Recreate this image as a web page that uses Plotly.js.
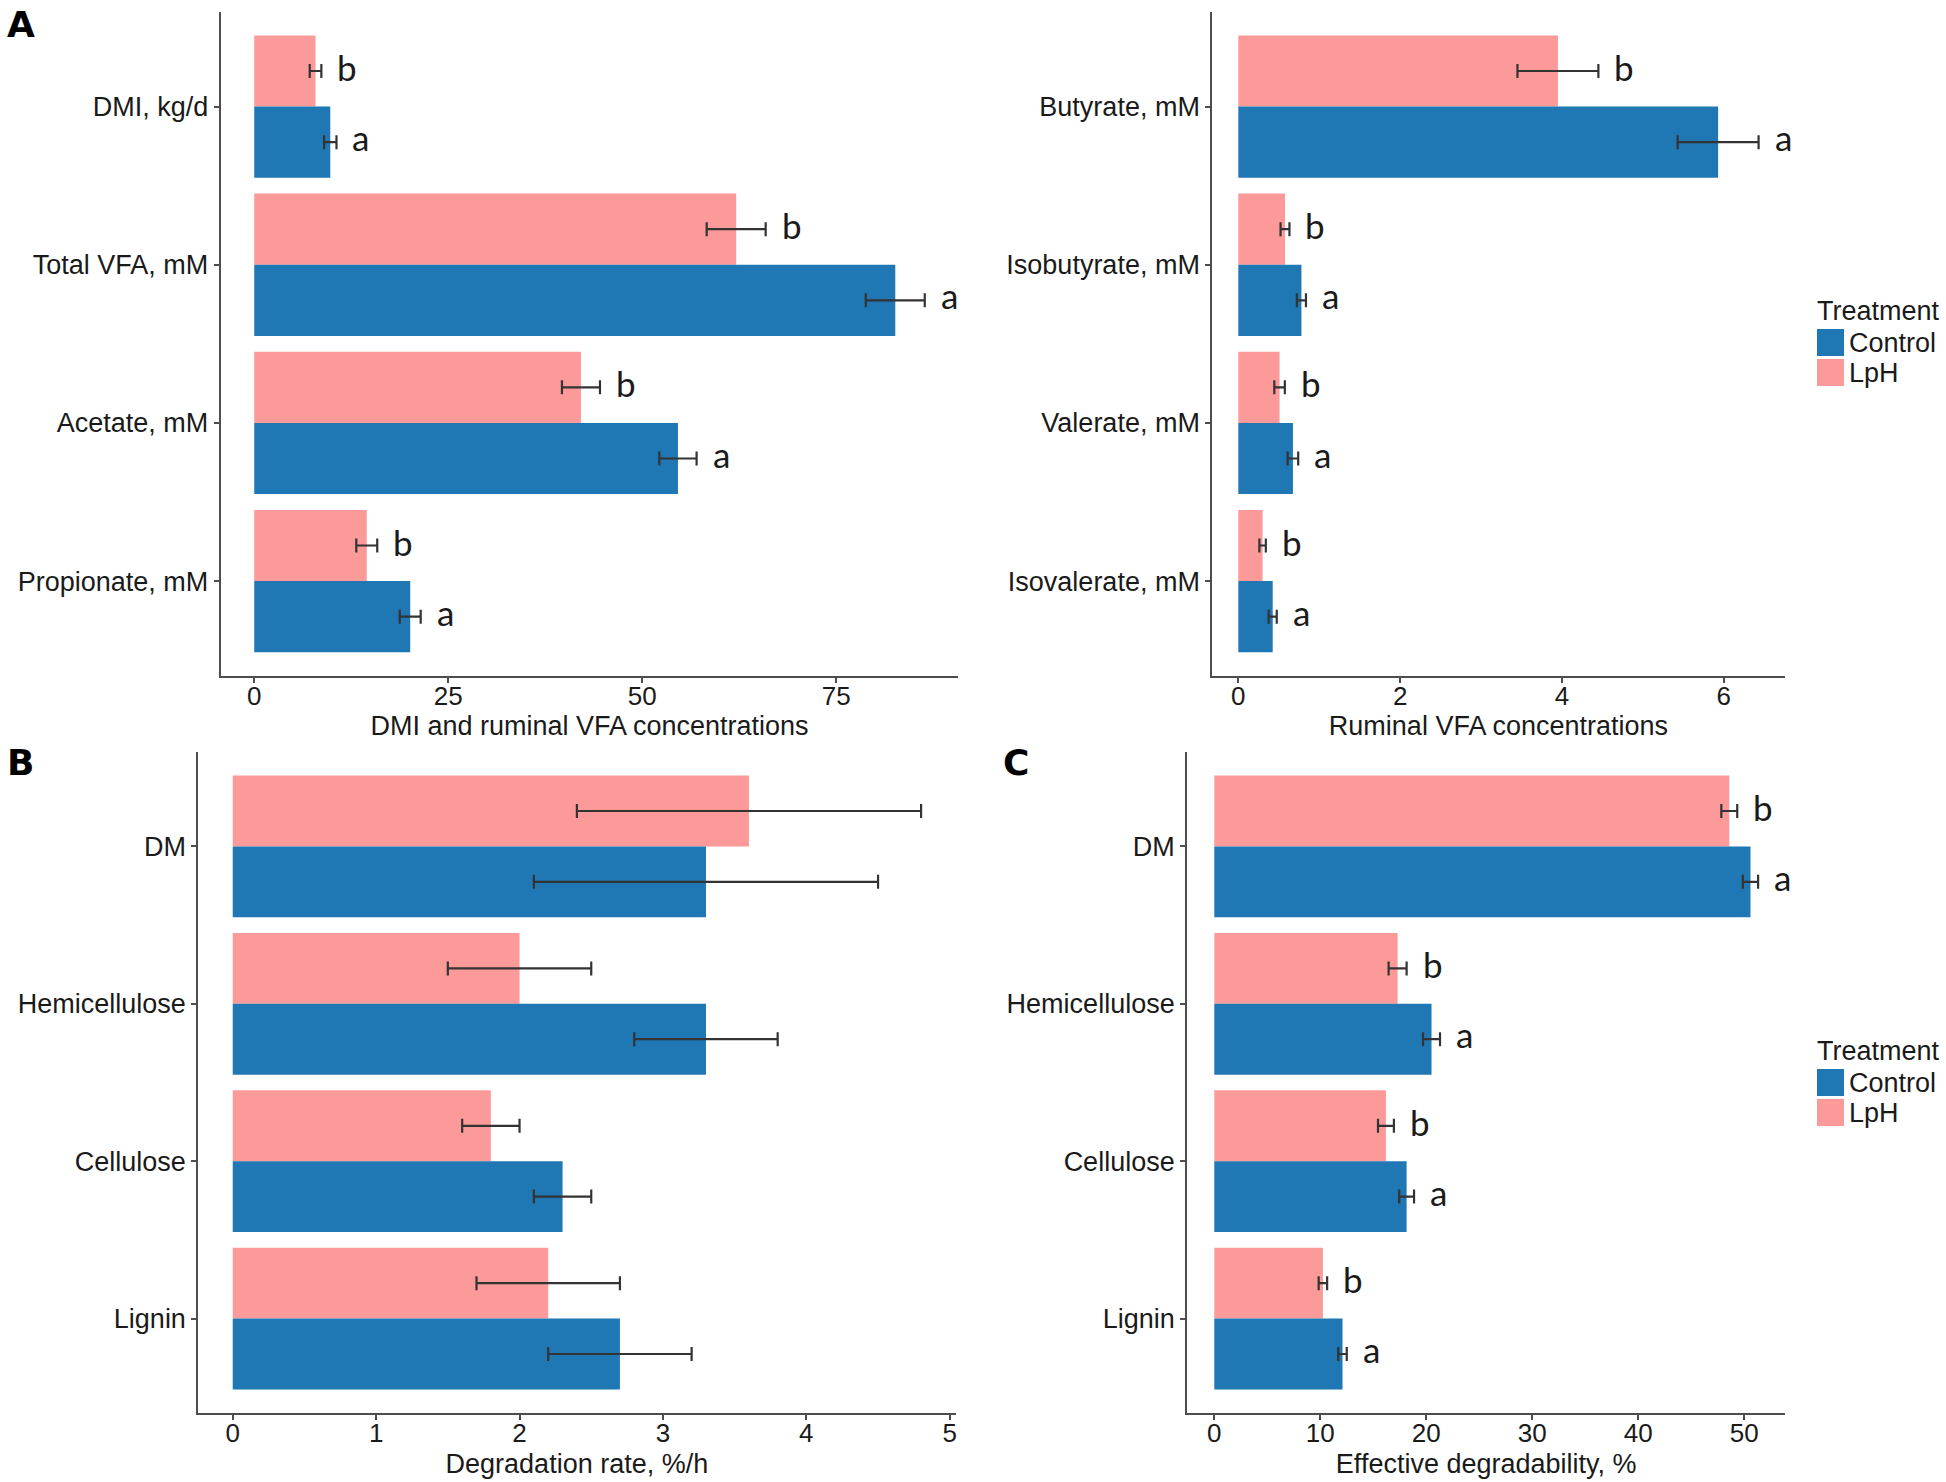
<!DOCTYPE html>
<html>
<head>
<meta charset="utf-8">
<script src="https://cdn.plot.ly/plotly-3.0.1.min.js"></script>
<style>html,body{margin:0;padding:0;background:#fff;}</style>
</head>
<body>
<div id="chart" style="width:1946px;height:1482px;"></div>
<script>
// ---------------- DATA ----------------
const treatments = ["Control", "LpH"];

// Panel A (left): DMI and ruminal VFA concentrations
const vfaCategories = ["DMI, kg/d", "Total VFA, mM", "Acetate, mM", "Propionate, mM"];
const vfaControl = [9.8, 82.6, 54.6, 20.1];
const vfaControlSE = [0.8, 3.8, 2.4, 1.35];
const vfaLpH = [7.9, 62.1, 42.1, 14.5];
const vfaLpHSE = [0.75, 3.8, 2.45, 1.35];
const vfaControlLetters = ["a", "a", "a", "a"];
const vfaLpHLetters = ["b", "b", "b", "b"];

// Panel A (right): Ruminal VFA concentrations
const minorCategories = ["Butyrate, mM", "Isobutyrate, mM", "Valerate, mM", "Isovalerate, mM"];
const minorControl = [5.93, 0.78, 0.675, 0.425];
const minorControlSE = [0.5, 0.056, 0.065, 0.05];
const minorLpH = [3.95, 0.577, 0.51, 0.30];
const minorLpHSE = [0.5, 0.055, 0.065, 0.04];
const minorControlLetters = ["a", "a", "a", "a"];
const minorLpHLetters = ["b", "b", "b", "b"];

// Panel B: Degradation rate, %/h
const fiberCategories = ["DM", "Hemicellulose", "Cellulose", "Lignin"];
const rateControl = [3.3, 3.3, 2.3, 2.7];
const rateControlSE = [1.2, 0.5, 0.2, 0.5];
const rateLpH = [3.6, 2.0, 1.8, 2.2];
const rateLpHSE = [1.2, 0.5, 0.2, 0.5];

// Panel C: Effective degradability, %
const edControl = [50.6, 20.5, 18.15, 12.1];
const edControlSE = [0.72, 0.8, 0.7, 0.4];
const edLpH = [48.6, 17.3, 16.2, 10.25];
const edLpHSE = [0.75, 0.85, 0.75, 0.4];
const edControlLetters = ["a", "a", "a", "a"];
const edLpHLetters = ["b", "b", "b", "b"];

// Axis / legend text
const panelLabels = ["A", "B", "C"];
const xTitles = ["DMI and ruminal VFA concentrations", "Ruminal VFA concentrations",
                 "Degradation rate, %/h", "Effective degradability, %"];
const xDticks = [25, 2, 1, 10];
const legendTitle = "Treatment";

// ---------------- STYLE ----------------
const W = 1946, H = 1482;
const FONT = "Liberation Sans, Arial, sans-serif";
const COL = {Control: "#1F77B4", LpH: "#FB9A99"};
const AXCOL = "#4d4d4d";
const TXT = "#1a1a1a";
const LETTER_FONT = {family: "Lato, Open Sans, sans-serif", size: 35, color: TXT};
const px = x => x / W;
const py = y => 1 - y / H;

function barTrace(name, vals, se, cats, xa, ya) {
  return {
    type: "bar", orientation: "h", name: name,
    x: vals, y: cats, xaxis: xa, yaxis: ya,
    marker: {color: COL[name], line: {width: 0}},
    error_x: {type: "data", array: se, visible: true, color: "#333333", thickness: 2.2, width: 7},
    showlegend: false, hoverinfo: "x+y+name"
  };
}

function xAxis(domain, ctrl, cse, lph, lse, dtick, title, anchor, standoff) {
  let maxUp = 0;
  for (let i = 0; i < ctrl.length; i++) {
    maxUp = Math.max(maxUp, ctrl[i] + cse[i], lph[i] + lse[i]);
  }
  return {
    domain: domain, anchor: anchor, range: [-0.05 * maxUp, 1.05 * maxUp],
    tickmode: "linear", tick0: 0, dtick: dtick,
    showline: true, linecolor: AXCOL, linewidth: 2,
    ticks: "outside", ticklen: 5, tickwidth: 2, tickcolor: AXCOL,
    ticklabelstandoff: -9,
    showgrid: false, zeroline: false,
    tickfont: {family: FONT, size: 26, color: TXT},
    title: {text: title, font: {family: FONT, size: 27, color: TXT}, standoff: standoff},
    fixedrange: true
  };
}

function yAxis(domain, cats, anchor) {
  return {
    domain: domain, anchor: anchor, type: "category",
    categoryorder: "array", categoryarray: cats,
    range: [cats.length - 0.4, -0.6],
    showline: true, linecolor: AXCOL, linewidth: 2,
    ticks: "outside", ticklen: 5, tickwidth: 2, tickcolor: AXCOL,
    showgrid: false, zeroline: false,
    tickfont: {family: FONT, size: 27, color: TXT},
    fixedrange: true
  };
}

function letters(xref, yref, ctrl, cse, lph, lse, cl, ll) {
  const out = [];
  for (let i = 0; i < ctrl.length; i++) {
    out.push({xref: xref, yref: yref, x: lph[i] + lse[i], y: i - 0.225, text: ll[i],
      xanchor: "left", yanchor: "middle", xshift: 14, yshift: 4, showarrow: false, font: LETTER_FONT});
    out.push({xref: xref, yref: yref, x: ctrl[i] + cse[i], y: i + 0.225, text: cl[i],
      xanchor: "left", yanchor: "middle", xshift: 14, yshift: 5, showarrow: false, font: LETTER_FONT});
  }
  return out;
}

// ---------------- TRACES ----------------
// LpH first so it sits above Control inside each group (y axis reversed)
const data = [
  barTrace("LpH", vfaLpH, vfaLpHSE, vfaCategories, "x", "y"),
  barTrace("Control", vfaControl, vfaControlSE, vfaCategories, "x", "y"),
  barTrace("LpH", minorLpH, minorLpHSE, minorCategories, "x2", "y2"),
  barTrace("Control", minorControl, minorControlSE, minorCategories, "x2", "y2"),
  barTrace("LpH", rateLpH, rateLpHSE, fiberCategories, "x3", "y3"),
  barTrace("Control", rateControl, rateControlSE, fiberCategories, "x3", "y3"),
  barTrace("LpH", edLpH, edLpHSE, fiberCategories, "x4", "y4"),
  barTrace("Control", edControl, edControlSE, fiberCategories, "x4", "y4")
];

// ---------------- LAYOUT ----------------
const topY = [py(676), py(11.7)];
const botY = [py(1413), py(752)];

const annotations = []
  .concat(letters("x", "y", vfaControl, vfaControlSE, vfaLpH, vfaLpHSE, vfaControlLetters, vfaLpHLetters))
  .concat(letters("x2", "y2", minorControl, minorControlSE, minorLpH, minorLpHSE, minorControlLetters, minorLpHLetters))
  .concat(letters("x4", "y4", edControl, edControlSE, edLpH, edLpHSE, edControlLetters, edLpHLetters));

// panel labels
const panelPos = [[5, 25], [5, 762], [1001, 762]];
panelLabels.forEach((t, i) => {
  annotations.push({xref: "paper", yref: "paper", x: px(panelPos[i][0]), y: py(panelPos[i][1]),
    xanchor: "left", yanchor: "middle", text: "<b>" + t + "</b>", showarrow: false,
    font: {family: "DejaVu Sans, " + FONT, size: 36, color: "#000"}});
});

// manual legends (ggplot style), two copies
const shapes = [];
[0, 740].forEach(off => {
  annotations.push({xref: "paper", yref: "paper", x: px(1815), y: py(311 + off),
    xanchor: "left", yanchor: "middle", text: legendTitle, showarrow: false,
    font: {family: FONT, size: 27, color: TXT}});
  treatments.forEach((t, k) => {
    const y0 = 329 + off + k * 30;
    shapes.push({type: "rect", xref: "paper", yref: "paper",
      x0: px(1817), x1: px(1844), y0: py(y0), y1: py(y0 + 27),
      fillcolor: COL[t], line: {width: 0}});
    annotations.push({xref: "paper", yref: "paper", x: px(1847), y: py(y0 + 14),
      xanchor: "left", yanchor: "middle", text: t, showarrow: false,
      font: {family: FONT, size: 27, color: TXT}});
  });
});

const layout = {
  width: W, height: H,
  margin: {l: 0, r: 0, t: 0, b: 0},
  paper_bgcolor: "#fff", plot_bgcolor: "#fff",
  barmode: "group", bargap: 0.1, bargroupgap: 0,
  showlegend: false,
  font: {family: FONT, color: TXT},
  xaxis: xAxis([px(220.7), px(958.3)], vfaControl, vfaControlSE, vfaLpH, vfaLpHSE, xDticks[0], xTitles[0], "y", 5),
  yaxis: yAxis(topY, vfaCategories, "x"),
  xaxis2: xAxis([px(1212.3), px(1784.6)], minorControl, minorControlSE, minorLpH, minorLpHSE, xDticks[1], xTitles[1], "y2", 5),
  yaxis2: yAxis(topY, minorCategories, "x2"),
  xaxis3: xAxis([px(198.3), px(955.5)], rateControl, rateControlSE, rateLpH, rateLpHSE, xDticks[2], xTitles[2], "y3", 7),
  yaxis3: yAxis(botY, fiberCategories, "x3"),
  xaxis4: xAxis([px(1187.1), px(1785.3)], edControl, edControlSE, edLpH, edLpHSE, xDticks[3], xTitles[3], "y4", 7),
  yaxis4: yAxis(botY, fiberCategories, "x4"),
  annotations: annotations,
  shapes: shapes
};

Plotly.newPlot("chart", data, layout, {staticPlot: true, displayModeBar: false});
</script>
</body>
</html>
